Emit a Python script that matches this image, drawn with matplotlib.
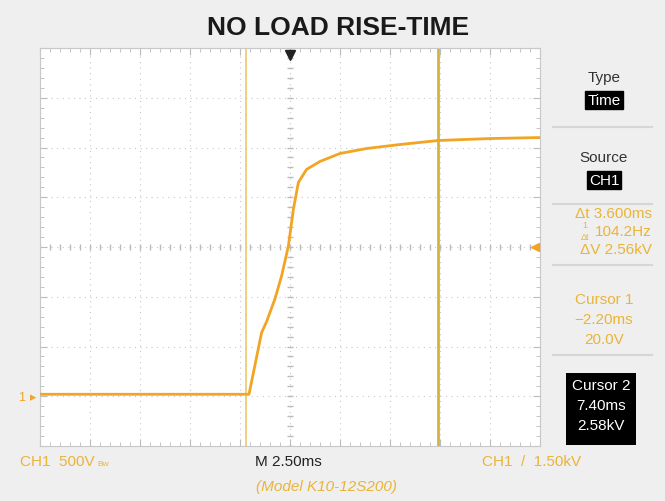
import numpy as np
import matplotlib
matplotlib.use('Agg')
import matplotlib.pyplot as plt

# scope trace: time in ms, voltage in V
t_ms = [-12.5, -2.05, -1.42, -1.17, -0.75, -0.42, -0.08, 0.17, 0.42, 0.83,
        1.5, 2.5, 3.83, 5.5, 7.4, 8.0, 10.0, 12.5]
volts = [20, 20, 640, 750, 980, 1210, 1510, 1880, 2150, 2280,
         2360, 2440, 2490, 2530, 2570, 2575, 2590, 2600]

cursor_t = [-2.20, 7.40]          # ms
trig_level = 1500                 # V
time_div = 2.5                    # ms/div
volt_div = 500                    # V/div

side_labels = [('Type', 'Time'), ('Source', 'CH1')]
dt_text = '\u0394t 3.600ms'
freq_text = '104.2Hz'
dv_text = '\u0394V 2.56kV'
cursor1_lines = ['Cursor 1', '\u22122.20ms', '20.0V']
cursor2_lines = ['Cursor 2', '7.40ms', '2.58kV']

ORANGE = '#f2a424'
TXT_OR = '#e9b43a'
GRID = '#c9c9c9'
FONT = 'Liberation Sans'

W, H = 665, 502
fig = plt.figure(figsize=(W / 100, H / 100), dpi=100)
fig.patch.set_facecolor('#efefef')

def fx(px):
    return px / W

def fy(py):
    return 1 - py / H

# screen area
ax = fig.add_axes([fx(40), fy(447), 500 / W, 398 / H])
ax.set_facecolor('white')
ax.set_xlim(-5 * time_div, 5 * time_div)
ax.set_ylim(trig_level - 4 * volt_div, trig_level + 4 * volt_div)

# dotted graticule
for xv in np.arange(-4, 5) * time_div:
    ax.axvline(xv, color=GRID, lw=0.8, ls=(0, (1, 4)), zorder=0)
for yv in trig_level + np.arange(-3, 4) * volt_div:
    ax.axhline(yv, color=GRID, lw=0.8, ls=(0, (1, 4)), zorder=0)

# small ticks on the centre lines
xm = np.arange(-25, 26) * time_div / 5
ym = trig_level + np.arange(-20, 21) * volt_div / 5
ax.plot(xm, np.full_like(xm, trig_level, dtype=float), '|', color='#bbbbbb', ms=5, zorder=0)
ax.plot(np.zeros_like(ym), ym, '_', color='#bbbbbb', ms=5, zorder=0)

ax.set_xticks(np.arange(-5, 6) * time_div)
ax.set_xticks(xm, minor=True)
ax.set_yticks(trig_level + np.arange(-4, 5) * volt_div)
ax.set_yticks(ym, minor=True)
ax.tick_params(which='both', direction='in', top=True, right=True, color='#bbbbbb',
               labelleft=False, labelbottom=False)
ax.tick_params(which='major', length=5)
ax.tick_params(which='minor', length=3)
for s in ax.spines.values():
    s.set_color('#c8c8c8')
    s.set_linewidth(0.8)

# cursors
ax.axvline(cursor_t[0], color='#ecc86a', lw=1.2, zorder=1)
ax.axvline(cursor_t[1], color='#d2b43c', lw=2.0, zorder=1)

# trace
ax.plot(t_ms, volts, color=ORANGE, lw=2.0, zorder=3)

# trigger position / level markers
ax.plot([0], [trig_level + 3.85 * volt_div], 'v', color='#222222', ms=7, clip_on=False, zorder=4)
ax.plot([4.9 * time_div], [trig_level], '<', color=ORANGE, ms=6, clip_on=False, zorder=4)
fig.text(fx(22), fy(398), '1', color=ORANGE, fontsize=9, ha='center', va='center', family=FONT)
fig.text(fx(33), fy(398), '\u25b8', color=ORANGE, fontsize=9, ha='center', va='center')

# title
fig.text(fx(338), fy(28), 'NO LOAD RISE-TIME', fontsize=19, fontweight='bold',
         color='#1a1a1a', ha='center', va='center', family=FONT)

# right side menu
box_w = dict(facecolor='black', edgecolor='black', pad=1.5)
tops = [78, 158]
for (lab, val), y0 in zip(side_labels, tops):
    fig.text(fx(604), fy(y0), lab, fontsize=11, color='#333333', ha='center', va='center', family=FONT)
    fig.text(fx(604), fy(y0 + 23), val, fontsize=11, color='white', ha='center', va='center',
             family=FONT, bbox=box_w)
for yy in [128, 205, 266, 356]:
    fig.add_artist(plt.Line2D([fx(553), fx(652)], [fy(yy), fy(yy)], color='#d6d6d6', lw=1.5))

fig.text(fx(652), fy(214), dt_text, fontsize=11, color=TXT_OR, ha='right', va='center', family=FONT)
fig.text(fx(652), fy(232), freq_text, fontsize=11, color=TXT_OR, ha='right', va='center', family=FONT)
fig.text(fx(585), fy(226), '1', fontsize=6.5, color=TXT_OR, ha='center', va='center', family=FONT)
fig.text(fx(585), fy(237.5), '\u0394t', fontsize=6.5, color=TXT_OR, ha='center', va='center', family=FONT)
fig.text(fx(652), fy(250), dv_text, fontsize=11, color=TXT_OR, ha='right', va='center', family=FONT)
for i, s in enumerate(cursor1_lines):
    fig.text(fx(604), fy(300 + 20 * i), s, fontsize=11, color=TXT_OR, ha='center', va='center', family=FONT)

fig.add_artist(plt.Rectangle((fx(566), fy(446)), 70 / W, 72 / H, facecolor='black', edgecolor='none'))
for i, s in enumerate(cursor2_lines):
    fig.text(fx(601), fy(386 + 20 * i), s, fontsize=11, color='white', ha='center', va='center', family=FONT)

# bottom status line
fig.text(fx(20), fy(462), 'CH1  500V', fontsize=11, color=TXT_OR, ha='left', va='center', family=FONT)
fig.text(fx(97), fy(465), 'Bw', fontsize=6, color=TXT_OR, ha='left', va='center', family=FONT)
fig.text(fx(288), fy(462), 'M 2.50ms', fontsize=11, color='#222222', ha='center', va='center', family=FONT)
fig.text(fx(482), fy(462), 'CH1  /  1.50kV', fontsize=11, color=TXT_OR, ha='left', va='center', family=FONT)
fig.text(fx(326), fy(487), '(Model K10-12S200)', fontsize=11, color=TXT_OR, style='italic',
         ha='center', va='center', family=FONT)

fig.savefig('out.png', dpi=100, facecolor=fig.get_facecolor())
